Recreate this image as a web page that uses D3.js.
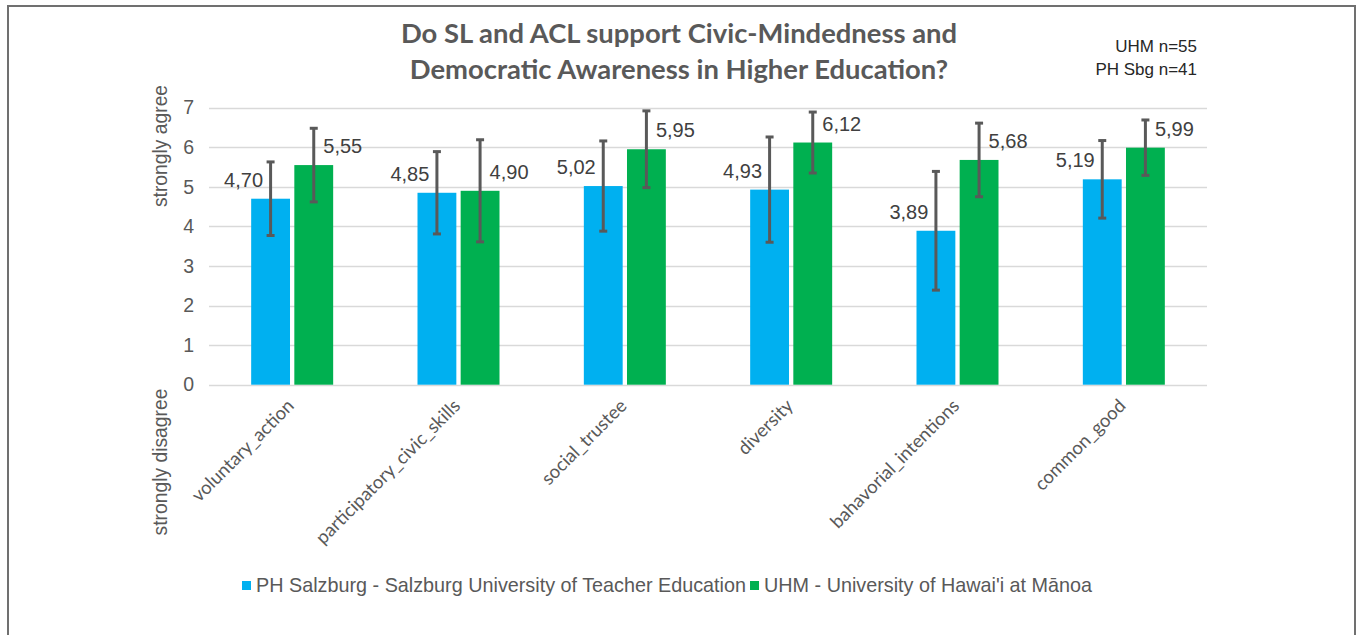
<!DOCTYPE html>
<html>
<head>
<meta charset="utf-8">
<script src="https://cdn.jsdelivr.net/npm/d3@7"></script>
<style>
  body { margin: 0; background: #fff; }
  text { font-family: "Liberation Sans", Arial, sans-serif; }
</style>
</head>
<body>
<svg id="chart" width="1357" height="635"></svg>
<script>
// data
var categories = ["voluntary_action", "participatory_civic_skills", "social_trustee",
                  "diversity", "bahavorial_intentions", "common_good"];
var seriesNames = ["PH Salzburg - Salzburg University of Teacher Education",
                   "UHM - University of Hawai'i at Mānoa"];
var phMeans = [4.70, 4.85, 5.02, 4.93, 3.89, 5.19];
var phSd    = [0.93, 1.04, 1.14, 1.33, 1.50, 0.98];
var uhmMeans = [5.55, 4.90, 5.95, 6.12, 5.68, 5.99];
var uhmSd    = [0.93, 1.29, 0.97, 0.77, 0.93, 0.70];
var yTicks = [0, 1, 2, 3, 4, 5, 6, 7];
var colors = ["#00b0f0", "#00b050"];

var svg = d3.select("#chart");
var W = 1357, H = 635;
var plot = {left: 209, right: 1207, top: 107.7, bottom: 384.7};

// frame around the figure (bottom edge is cut off in the picture)
svg.append("path")
   .attr("d", "M8," + (H + 5) + "V6H1355V" + (H + 5))
   .attr("fill", "none")
   .attr("stroke", "#707070")
   .attr("stroke-width", 2);

var y = d3.scaleLinear().domain([0, 7]).range([plot.bottom, plot.top]);
var x0 = d3.scaleBand().domain(categories).range([plot.left, plot.right]);
var groupW = 82;
var x1 = d3.scaleBand().domain([0, 1]).range([0, groupW]).paddingInner(0.1);

// grid lines
svg.append("g")
   .selectAll("line")
   .data(yTicks)
   .join("line")
   .attr("x1", plot.left)
   .attr("x2", plot.right)
   .attr("y1", function(d){ return Math.round(y(d)) + 0.5; })
   .attr("y2", function(d){ return Math.round(y(d)) + 0.5; })
   .attr("stroke", "#d9d9d9")
   .attr("stroke-width", 1.3);

// y axis labels
var yAxis = d3.axisLeft(y).tickValues(yTicks).tickSize(0).tickPadding(0)
              .tickFormat(d3.format("d"));
var ya = svg.append("g").attr("transform", "translate(194,0)").call(yAxis);
ya.select(".domain").remove();
ya.selectAll("text")
  .attr("fill", "#595959")
  .style("font-size", "19.5px")
  .style("font-family", "'Liberation Sans', Arial, sans-serif");

// y titles
svg.append("text")
   .attr("transform", "translate(167,146) rotate(-90)")
   .attr("text-anchor", "middle")
   .attr("fill", "#595959")
   .style("font-size", "19.3px")
   .text("strongly agree");
svg.append("text")
   .attr("transform", "translate(167,462) rotate(-90)")
   .attr("text-anchor", "middle")
   .attr("fill", "#595959")
   .style("font-size", "19.3px")
   .text("strongly disagree");

// build rows for both series
var rows = [];
categories.forEach(function(c, i){
  rows.push({cat: c, s: 0, v: phMeans[i], sd: phSd[i]});
  rows.push({cat: c, s: 1, v: uhmMeans[i], sd: uhmSd[i]});
});
function barX(d){ return x0(d.cat) + (x0.bandwidth() - groupW) / 2 + x1(d.s); }
function barC(d){ return barX(d) + x1.bandwidth() / 2; }

// bars
svg.append("g")
   .selectAll("rect")
   .data(rows)
   .join("rect")
   .attr("x", barX)
   .attr("y", function(d){ return y(d.v); })
   .attr("width", x1.bandwidth())
   .attr("height", function(d){ return y(0) - y(d.v); })
   .attr("fill", function(d){ return colors[d.s]; });

// error bars
var eb = svg.append("g").attr("stroke", "#595959").attr("stroke-width", 3);
rows.forEach(function(d){
  var cx = barC(d), hi = y(d.v + d.sd), lo = y(d.v - d.sd);
  eb.append("line").attr("x1", cx).attr("x2", cx).attr("y1", hi).attr("y2", lo);
  eb.append("line").attr("x1", cx - 4).attr("x2", cx + 4).attr("y1", hi).attr("y2", hi);
  eb.append("line").attr("x1", cx - 4).attr("x2", cx + 4).attr("y1", lo).attr("y2", lo);
});

// value labels
var fmt = d3.format(".2f");
svg.append("g")
   .selectAll("text")
   .data(rows)
   .join("text")
   .attr("x", function(d){ return barC(d) + (d.s === 0 ? -27 : 29); })
   .attr("y", function(d){ return y(d.v) - 12; })
   .attr("text-anchor", "middle")
   .attr("fill", "#404040")
   .style("font-size", "20px")
   .text(function(d){ return fmt(d.v).replace(".", ","); });

// category labels
svg.append("g")
   .selectAll("text")
   .data(categories)
   .join("text")
   .attr("transform", function(d){
     return "translate(" + (x0(d) + x0.bandwidth() / 2 + 3) + ",407) rotate(-45)";
   })
   .attr("text-anchor", "end")
   .attr("fill", "#595959")
   .style("font-family", "Lato, 'Open Sans', sans-serif")
   .style("font-size", "18.5px")
   .text(function(d){ return d; });

// title
var title = svg.append("text")
   .attr("text-anchor", "middle")
   .attr("fill", "#595959")
   .style("font-family", "Lato, 'Open Sans', sans-serif")
   .style("font-weight", "bold")
   .style("font-size", "27.4px");
title.append("tspan").attr("x", 679).attr("y", 43).text("Do SL and ACL support Civic-Mindedness and");
title.append("tspan").attr("x", 679).attr("y", 79).text("Democratic Awareness in Higher Education?");

// sample sizes
var ns = svg.append("text")
   .attr("text-anchor", "end")
   .attr("fill", "#262626")
   .style("font-size", "17px");
ns.append("tspan").attr("x", 1197).attr("y", 52).text("UHM n=55");
ns.append("tspan").attr("x", 1197).attr("y", 75).text("PH Sbg n=41");

// legend
var lx = 242;
var legend = svg.append("g");
seriesNames.forEach(function(name, i){
  legend.append("rect")
        .attr("x", lx).attr("y", 581)
        .attr("width", 9).attr("height", 9)
        .attr("fill", colors[i]);
  var t = legend.append("text")
        .attr("x", lx + 14).attr("y", 592)
        .attr("fill", "#595959")
        .style("font-size", "19.8px")
        .text(name);
  lx += 14 + t.node().getComputedTextLength() + 4;
});
</script>
</body>
</html>
